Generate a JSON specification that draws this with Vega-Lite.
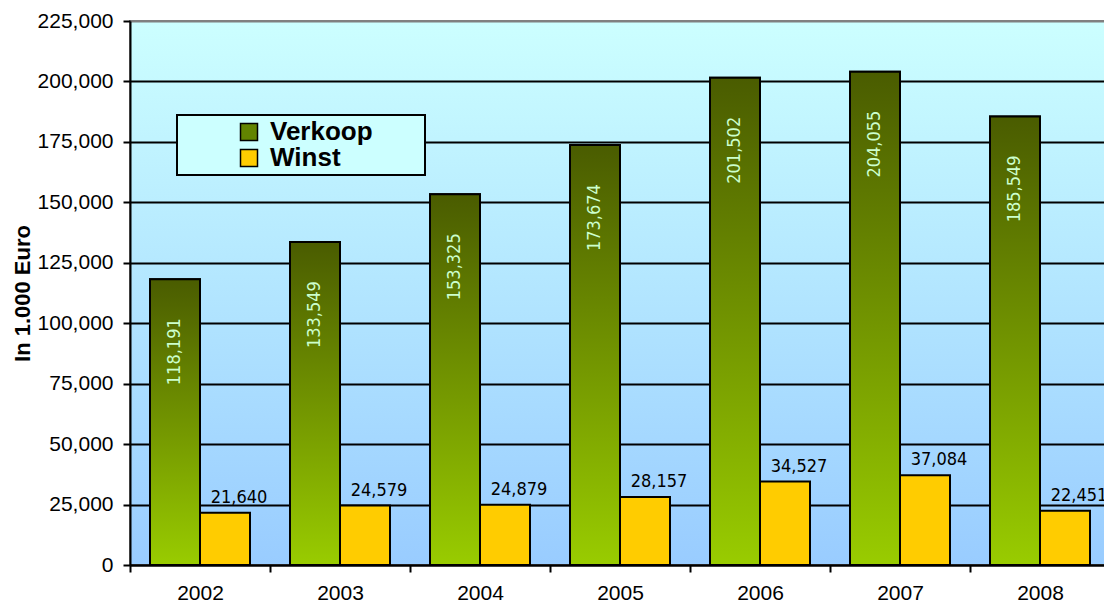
{
  "$schema": "https://vega.github.io/schema/vega-lite/v6.json",
  "width": 980,
  "height": 544,
  "autosize": {"type": "none"},
  "padding": {"left": 130, "top": 21, "right": -6, "bottom": 38},
  "background": "white",
  "config": {
    "view": {
      "fill": {"gradient": "linear", "x1": 0, "y1": 0, "x2": 0, "y2": 1, "stops": [{"offset": 0, "color": "#ccffff"}, {"offset": 1, "color": "#99ccff"}]},
      "stroke": "#808080",
      "strokeWidth": 2
    },
    "legend": {"strokeWidth": 2}
  },
  "data": {
    "values": [
      {"year": "2002", "series": "Verkoop", "value": 118191},
      {"year": "2002", "series": "Winst", "value": 21640},
      {"year": "2003", "series": "Verkoop", "value": 133549},
      {"year": "2003", "series": "Winst", "value": 24579},
      {"year": "2004", "series": "Verkoop", "value": 153325},
      {"year": "2004", "series": "Winst", "value": 24879},
      {"year": "2005", "series": "Verkoop", "value": 173674},
      {"year": "2005", "series": "Winst", "value": 28157},
      {"year": "2006", "series": "Verkoop", "value": 201502},
      {"year": "2006", "series": "Winst", "value": 34527},
      {"year": "2007", "series": "Verkoop", "value": 204055},
      {"year": "2007", "series": "Winst", "value": 37084},
      {"year": "2008", "series": "Verkoop", "value": 185549},
      {"year": "2008", "series": "Winst", "value": 22451}
    ]
  },
  "encoding": {
    "x": {
      "field": "year", "type": "nominal",
      "scale": {"paddingInner": 0, "paddingOuter": 0},
      "axis": {
        "title": null, "tickBand": "extent", "labelAngle": 0,
        "labelFont": "Liberation Sans", "labelFontSize": 21, "labelColor": "black",
        "tickSize": 7, "tickWidth": 2, "tickColor": "black",
        "domainColor": "black", "domainWidth": 2, "labelPadding": 10, "grid": false
      }
    },
    "xOffset": {
      "field": "series", "type": "nominal",
      "scale": {"domain": ["Verkoop", "Winst"], "paddingInner": 0, "paddingOuter": 0.4}
    },
    "y": {
      "field": "value", "type": "quantitative",
      "scale": {"domain": [0, 225000], "nice": false},
      "axis": {
        "title": "In 1.000 Euro",
        "values": [0, 25000, 50000, 75000, 100000, 125000, 150000, 175000, 200000, 225000],
        "format": ",.0f",
        "labelFont": "Liberation Sans", "labelFontSize": 21, "labelColor": "black",
        "tickSize": 7, "tickWidth": 2, "tickColor": "black", "labelPadding": 10,
        "domainColor": "black", "domainWidth": 2,
        "grid": true,
        "gridColor": {"condition": {"test": "datum.value === 225000", "value": "#808080"}, "value": "black"},
        "gridWidth": 2, "gridOpacity": 1,
        "titleFont": "Liberation Sans", "titleFontSize": 22, "titleFontWeight": "bold",
        "titleColor": "black", "titlePadding": 3
      }
    }
  },
  "layer": [
    {
      "mark": {"type": "bar", "stroke": "black", "strokeWidth": 2},
      "encoding": {
        "color": {
          "field": "series", "type": "nominal",
          "scale": {"domain": ["Verkoop", "Winst"], "range": ["#628400", "#ffcc00"]},
          "legend": {
            "title": " ", "titleOrient": "right", "titlePadding": 48,
            "orient": "none", "legendX": 47, "legendY": 94,
            "fillColor": "#ccffff", "strokeColor": "black", "padding": 4,
            "symbolType": "square", "symbolSize": 289, "symbolStrokeColor": "black",
            "symbolStrokeWidth": 1.5, "symbolOffset": 55,
            "labelFont": "Liberation Sans", "labelFontSize": 26, "labelFontWeight": "bold",
            "labelColor": "black", "labelOffset": 8, "rowPadding": -3
          }
        }
      }
    },
    {
      "transform": [{"filter": "datum.series === 'Verkoop'"}],
      "mark": {
        "type": "bar", "stroke": "black", "strokeWidth": 2,
        "fill": {"gradient": "linear", "x1": 0, "y1": 0, "x2": 0, "y2": 1, "stops": [{"offset": 0, "color": "#4a5c00"}, {"offset": 1, "color": "#99cc00"}]}
      }
    },
    {
      "transform": [{"filter": "datum.series === 'Verkoop'"}],
      "mark": {
        "type": "text", "angle": 270, "align": "right", "baseline": "middle", "yOffset": 39,
        "font": "Liberation Sans Narrow, Arial Narrow, DejaVu Sans Condensed, sans-serif",
        "fontSize": 18, "fill": "#ccffcc"
      },
      "encoding": {"text": {"field": "value", "type": "quantitative", "format": ","}}
    },
    {
      "transform": [{"filter": "datum.series === 'Winst'"}],
      "mark": {
        "type": "text", "align": "center", "baseline": "alphabetic", "dx": 14, "yOffset": -10,
        "font": "Liberation Sans Narrow, Arial Narrow, DejaVu Sans Condensed, sans-serif",
        "fontSize": 18, "fill": "black"
      },
      "encoding": {"text": {"field": "value", "type": "quantitative", "format": ","}}
    }
  ]
}
